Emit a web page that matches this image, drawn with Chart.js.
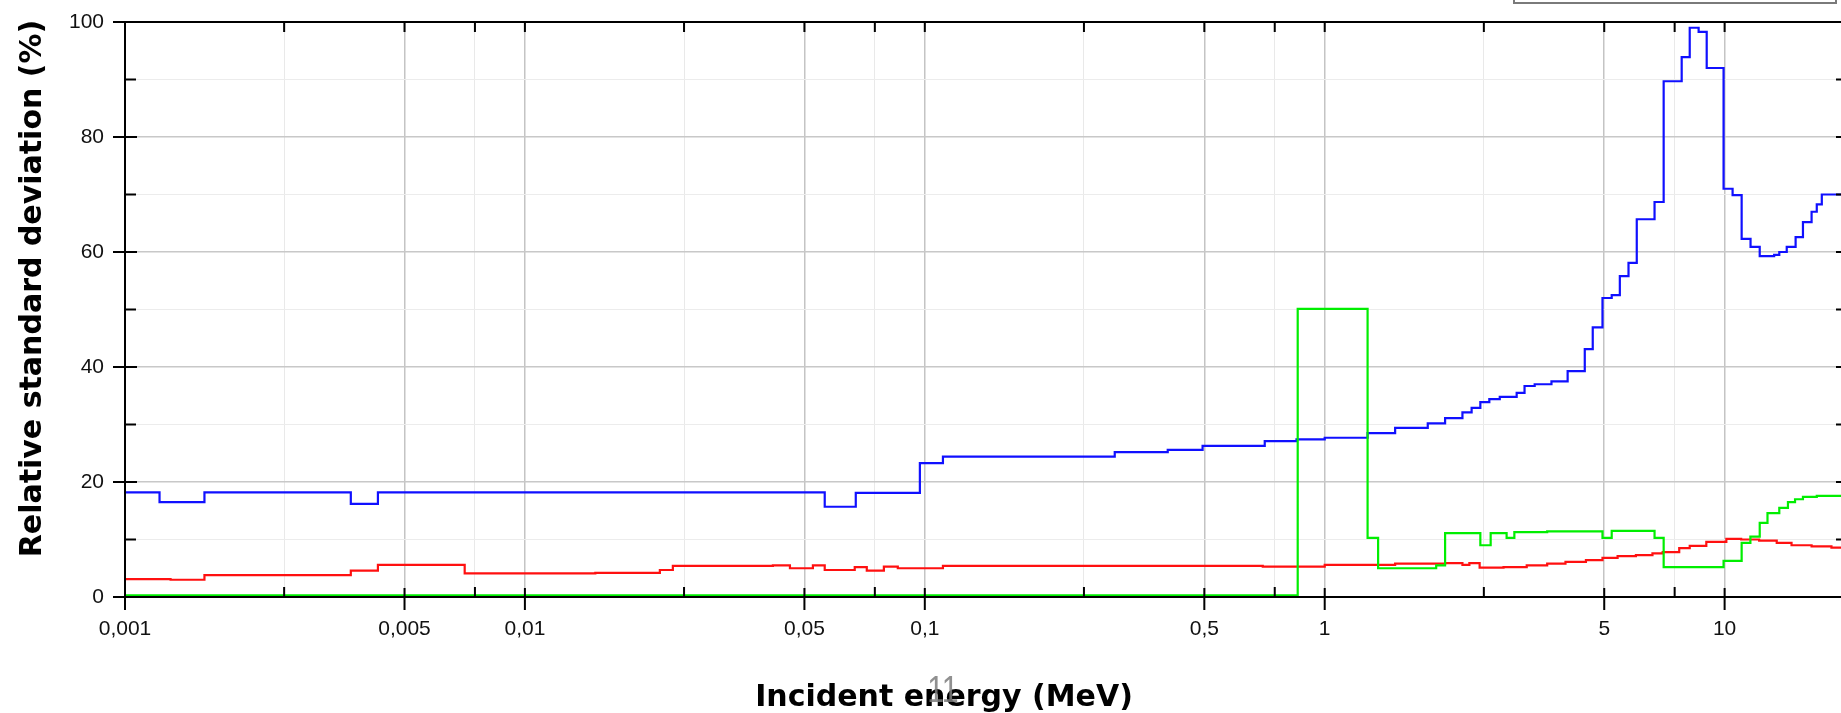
<!DOCTYPE html>
<html><head><meta charset="utf-8">
<script src="https://cdn.jsdelivr.net/npm/chart.js@4.4.1/dist/chart.umd.min.js"></script>
<style>
html,body{margin:0;padding:0;background:#fff;overflow:hidden;width:1841px;height:713px}
#wrap{position:relative;width:1841px;height:713px;overflow:hidden}
canvas{display:block}
</style></head><body><div id="wrap"><canvas id="c" width="1860" height="713"></canvas></div>
<script>
// ---- data (energy bin left edges in MeV, relative std. deviation in %) ----
const blueEnergy = [0.001,0.00122,0.00158,0.00367,0.00429,0.0562,0.0672,0.0972,0.111,0.2985,0.405,0.495,0.708,0.85,1.0,1.28,1.5,1.81,2.0,2.21,2.33,2.45,2.58,2.74,3.02,3.16,3.35,3.69,4.05,4.47,4.68,4.95,5.22,5.47,5.75,6.03,6.68,7.04,7.81,8.18,8.61,9.02,9.94,10.47,11.03,11.61,12.24,13.3,13.7,14.3,15.05,15.7,16.5,17.0,17.5,20];
const blueValues = [18.2,16.5,18.2,16.2,18.2,15.7,18.1,23.3,24.4,25.2,25.6,26.3,27.1,27.4,27.7,28.5,29.4,30.2,31.1,32.1,32.9,33.9,34.4,34.8,35.5,36.7,37.0,37.5,39.3,43.1,46.9,52.0,52.5,55.8,58.1,65.7,68.7,89.7,93.9,99.0,98.3,92.0,71.0,69.9,62.3,60.9,59.3,59.5,60.0,60.9,62.6,65.2,67.0,68.3,70.0,70.0];

const redEnergy = [0.001,0.0013,0.00158,0.00367,0.00429,0.00707,0.015,0.02175,0.02344,0.0417,0.046,0.0525,0.0562,0.0668,0.0716,0.079,0.0856,0.111,0.7,1.0,1.5,2.0,2.21,2.3,2.44,2.8,3.2,3.6,4.0,4.5,4.95,5.4,6.0,6.6,7.0,7.7,8.18,9.0,10.1,11.0,12.2,13.5,14.7,16.5,18.5,20];
const redValues = [3.1,3.0,3.8,4.6,5.6,4.1,4.2,4.7,5.4,5.5,5.0,5.5,4.7,5.2,4.6,5.3,5.0,5.4,5.3,5.6,5.8,5.9,5.6,5.9,5.1,5.2,5.5,5.8,6.1,6.4,6.8,7.1,7.3,7.6,7.8,8.5,8.9,9.6,10.1,10.0,9.8,9.4,9.0,8.8,8.6,8.5];

const greenEnergy = [0.001,0.856,1.28,1.36,1.9,2.0,2.45,2.6,2.85,2.98,3.6,4.95,5.22,6.68,7.04,9.94,11.03,11.6,12.24,12.8,13.7,14.4,15.0,15.7,17.0,20];
const greenValues = [0.3,50.1,10.3,5.0,5.5,11.1,9.0,11.1,10.3,11.3,11.4,10.3,11.5,10.3,5.2,6.3,9.4,10.5,12.9,14.6,15.5,16.5,17.0,17.4,17.6,17.6];

// ---- ticks ----
const xTickValues = [0.001,0.0025,0.005,0.0075,0.01,0.025,0.05,0.075,0.1,0.25,0.5,0.75,1,2.5,5,7.5,10];
const xTickLabels = ['0,001','','0,005','','0,01','','0,05','','0,1','','0,5','','1','','5','','10'];
const yTickValues = [0,10,20,30,40,50,60,70,80,90,100];
const yTickLabels = ['0','','20','','40','','60','','80','','100'];

const xTitle = 'Incident energy (MeV)';
const yTitle = 'Relative standard deviation (%)';
const pageNumber = '11';

function pts(e, v){ return e.map((x,i)=>({x:x, y:v[i]})); }
function isMajorX(v){ const i = xTickValues.indexOf(v); return i>=0 && xTickLabels[i] !== ''; }
function isMajorY(v){ const i = yTickValues.indexOf(v); return i>=0 && yTickLabels[i] !== ''; }

Chart.defaults.font.family = "'Liberation Sans', Arial, sans-serif";

const framePlugin = {
  id: 'frame',
  afterDatasetsDraw(chart){
    const {ctx, chartArea:a, scales:{x, y}} = chart;
    ctx.save();
    ctx.strokeStyle = '#000';
    ctx.lineWidth = 2;
    ctx.strokeRect(a.left, a.top, a.right - a.left, a.bottom - a.top);
    ctx.beginPath();
    xTickValues.forEach(v => {
      const px = x.getPixelForValue(v);
      if (isMajorX(v)) { ctx.moveTo(px, a.bottom - 9); ctx.lineTo(px, a.bottom + 13); }
      else { ctx.moveTo(px, a.bottom - 10); ctx.lineTo(px, a.bottom); }
      ctx.moveTo(px, a.top); ctx.lineTo(px, a.top + 10);
    });
    yTickValues.forEach(v => {
      const py = y.getPixelForValue(v);
      if (isMajorY(v)) { ctx.moveTo(a.left - 12, py); ctx.lineTo(a.left + 12, py); }
      else { ctx.moveTo(a.left, py); ctx.lineTo(a.left + 11, py); }
      ctx.moveTo(a.right - 9, py); ctx.lineTo(a.right, py);
    });
    ctx.stroke();
    ctx.restore();
  },
  afterDraw(chart){
    const {ctx} = chart;
    ctx.save();
    // partially visible legend box at top
    ctx.strokeStyle = '#7a7a7a';
    ctx.lineWidth = 2;
    ctx.strokeRect(1514, -20, 322, 23);
    // axis titles
    ctx.fillStyle = '#000';
    ctx.font = "bold 30px 'DejaVu Sans'";
    ctx.textAlign = 'center';
    ctx.textBaseline = 'alphabetic';
    ctx.fillText(xTitle, 944, 706);
    ctx.translate(41, 288.5);
    ctx.rotate(-Math.PI/2);
    ctx.fillText(yTitle, 0, 0);
    ctx.restore();
    ctx.save();
    ctx.fillStyle = 'rgba(125,125,125,0.85)';
    ctx.font = "37px 'Liberation Sans'";
    ctx.textAlign = 'center';
    ctx.textBaseline = 'alphabetic';
    ctx.translate(943, 702);
    ctx.scale(0.82, 1);
    ctx.fillText(pageNumber, 0, 0);
    ctx.restore();
  }
};

const ds = (label, e, v, color) => ({
  label, data: pts(e, v), borderColor: color, backgroundColor: color,
  borderWidth: 2.2, pointRadius: 0, stepped: true, fill: false, tension: 0
});

new Chart(document.getElementById('c'), {
  type: 'line',
  data: { datasets: [
    ds('green', greenEnergy, greenValues, '#00ee00'),
    ds('red', redEnergy, redValues, '#ff1010'),
    ds('blue', blueEnergy, blueValues, '#1010ff')
  ]},
  options: {
    responsive: false,
    animation: false,
    events: [],
    layout: { padding: { top: 22, right: 15, left: 0, bottom: 0 } },
    plugins: { legend: { display: false }, tooltip: { enabled: false }, title: { display: false } },
    scales: {
      x: {
        type: 'logarithmic', min: 0.001, max: 20, position: 'bottom',
        afterBuildTicks: s => { s.ticks = xTickValues.map(v => ({ value: v })); },
        afterFit: s => { s.height = 116; s.paddingLeft = 0; s.paddingRight = 0; },
        ticks: {
          autoSkip: false, maxRotation: 0, minRotation: 0, padding: 20,
          color: '#111', font: { size: 21 },
          callback: (v) => { const i = xTickValues.indexOf(v); return i >= 0 ? xTickLabels[i] : ''; }
        },
        grid: {
          drawTicks: false,
          color: c => (c.tick && isMajorX(c.tick.value)) ? '#c4c4c4' : '#e9e9e9',
          lineWidth: c => (c.tick && isMajorX(c.tick.value)) ? 1.5 : 1
        },
        border: { display: false }
      },
      y: {
        type: 'linear', min: 0, max: 100, position: 'left',
        afterBuildTicks: s => { s.ticks = yTickValues.map(v => ({ value: v })); },
        afterFit: s => { s.width = 125; s.paddingTop = 0; s.paddingBottom = 0; },
        ticks: {
          autoSkip: false, padding: 21, color: '#111', font: { size: 21 },
          callback: (v) => { const i = yTickValues.indexOf(v); return i >= 0 ? yTickLabels[i] : ''; }
        },
        grid: {
          drawTicks: false,
          color: c => (c.tick && isMajorY(c.tick.value)) ? '#c8c8c8' : '#ececec',
          lineWidth: c => (c.tick && isMajorY(c.tick.value)) ? 1.5 : 1
        },
        border: { display: false }
      }
    }
  },
  plugins: [framePlugin]
});
</script></body></html>
